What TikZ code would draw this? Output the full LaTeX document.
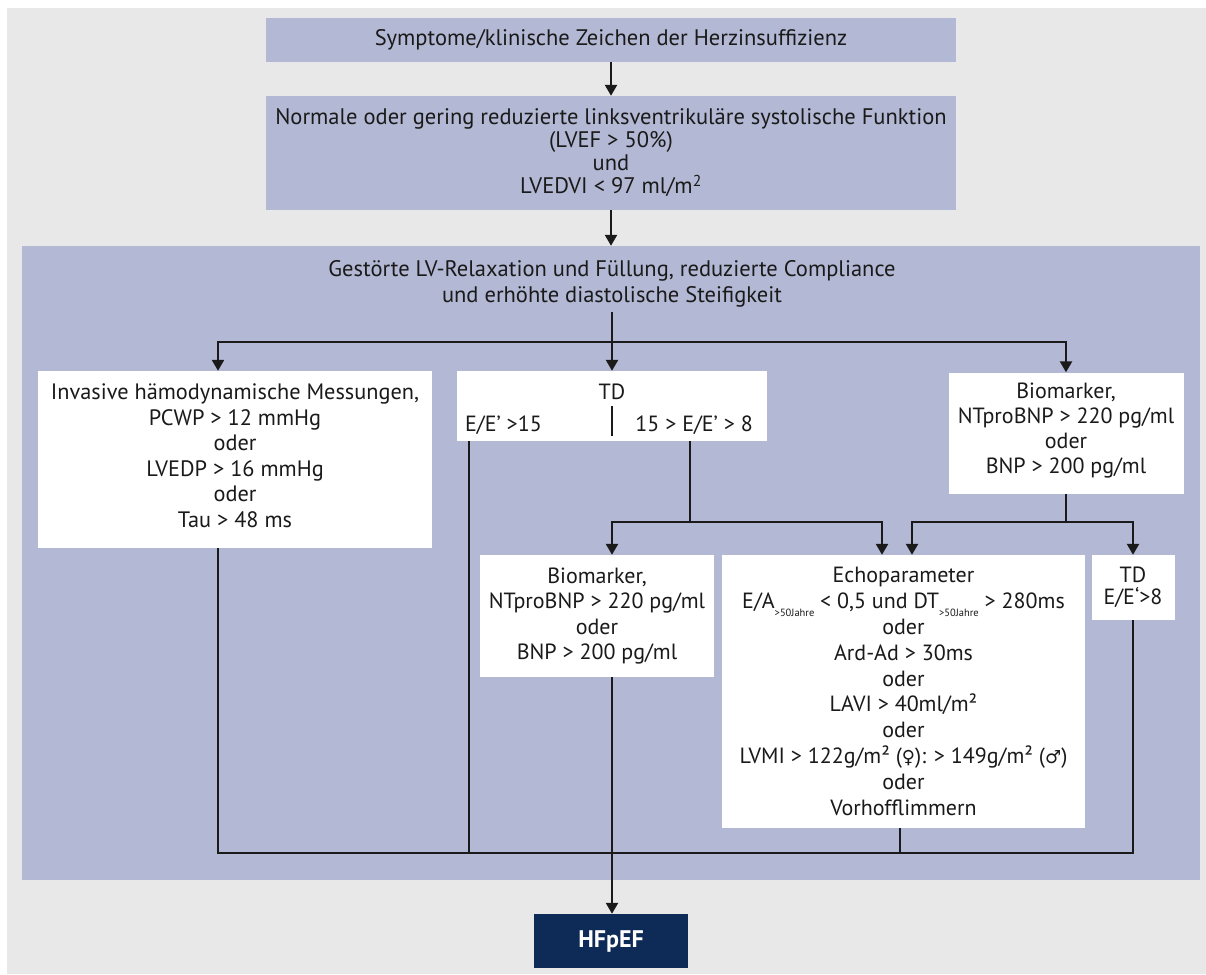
\documentclass[tikz,border=0pt]{standalone}
\usepackage{fontspec}
\setmainfont{PT Sans}
\newfontfamily\symfont{DejaVu Sans}
\usetikzlibrary{arrows.meta,calc}
\definecolor{bg}{HTML}{E8E8E8}
\definecolor{panel}{HTML}{B3B8D4}
\definecolor{navy}{HTML}{0E2A56}
\definecolor{ink}{HTML}{1A1A1A}
\newcommand{\jsub}{\raisebox{-0.7ex}{\fontsize{10.5}{10.5}\selectfont >50Jahre}}
\begin{document}
\begin{tikzpicture}[x=1pt,y=-1pt,
 box/.style={fill=white, inner sep=0pt, align=center, text=ink, font=\fontsize{22}{25.6}\selectfont},
 topbox/.style={fill=panel, inner sep=0pt, align=center, text=ink, font=\fontsize{22.5}{23}\selectfont},
 plain/.style={inner sep=0pt, align=center, text=ink, font=\fontsize{22}{25}\selectfont},
 conn/.style={line width=2.4pt, draw=ink},
 arr/.style={conn, -{Triangle[width=12pt,length=11pt]}},
]
\useasboundingbox (0,0) rectangle (1206,974);
\fill[white] (0,0) rectangle (1206,974);
\fill[bg] (7,8) rectangle (1206,974);
\node[fill=panel, inner sep=0pt, minimum width=1178pt, minimum height=634pt] (panel) at (611,563) {};

\node[topbox, minimum width=690pt, minimum height=44pt] (top1) at (611,40) {Symptome/klinische Zeichen der Herzinsuffizienz};
\node[topbox, minimum width=690pt, minimum height=114pt] (top2) at (611,153) {Normale oder gering reduzierte linksventrikuläre systolische Funktion\\(LVEF > 50\%)\\und\\LVEDVI < 97 ml/m\textsuperscript{2}};
\node[plain, font=\fontsize{22.5}{26}\selectfont] (ptitle) at (612,284) {Gestörte LV-Relaxation und Füllung, reduzierte Compliance\\und erhöhte diastolische Steifigkeit};

\node[box, minimum width=394pt, minimum height=177pt] (left) at (235,459.5) {};
\node[plain, font=\fontsize{22.3}{25.5}\selectfont] (leftt) at (235,455.5) {Invasive hämodynamische Messungen,\\PCWP > 12 mmHg\\oder\\LVEDP > 16 mmHg\\oder\\Tau > 48 ms};
\node[box, minimum width=310pt, minimum height=70pt] (td) at (612,406) {};
\node[plain] (tdt) at (612,392) {TD};
\node[plain, anchor=base west] (tdl) at (465,431) {E/E’ >15};
\node[plain, anchor=base east] (tdr) at (753,431) {15 > E/E’ > 8};
\draw[line width=1.5pt, draw=ink] (td.center) ++(0,0) -- ++(0,30);
\node[box, minimum width=235pt, minimum height=121pt] (rbio) at (1066,433) {};
\node[plain] (rbiot) at (1066,431) {Biomarker,\\NTproBNP > 220 pg/ml\\oder\\BNP > 200 pg/ml};
\node[box, minimum width=234pt, minimum height=122pt] (mbio) at (597,616) {Biomarker,\\NTproBNP > 220 pg/ml\\oder\\BNP > 200 pg/ml};
\node[box, minimum width=363pt, minimum height=273pt, font=\fontsize{22}{25.8}\selectfont] (echo) at (903.5,691.5) {Echoparameter\\E/A\jsub{} < 0,5 und DT\jsub{} > 280ms\\oder\\Ard-Ad > 30ms\\oder\\LAVI > 40ml/m²\\oder\\LVMI > 122g/m² ({\symfont\fontsize{18}{18}\selectfont ♀}): > 149g/m² ({\symfont\fontsize{18}{18}\selectfont ♂})\\oder\\Vorhofflimmern};
\node[box, minimum width=83pt, minimum height=65pt, font=\fontsize{22}{22}\selectfont] (tds) at (1133,587.5) {TD\\E/E‘>8};
\node[fill=navy, inner sep=0pt, minimum width=154pt, minimum height=54pt, text=white, font=\bfseries\fontsize{24}{24}\selectfont] (hf) at (611,941) {HFpEF};

% connectors
\draw[arr] (top1.south) -- (top1.south |- top2.north);
\draw[arr] (top2.south) -- (top2.south |- panel.north);
\coordinate (jt) at (612,312);
\coordinate (j) at (612,342);
\draw[conn] (jt) -- (j);
\draw[arr] (j) -| ([xshift=-17pt]left.north);
\draw[arr] (j) -- (td.north);
\draw[arr] (j) -| (rbio.north);
% TD right branch
\coordinate (tdrb) at (690,441);
\coordinate (tdj) at (690,522);
\draw[conn] (tdrb) -- (tdj);
\draw[arr] (tdj) -| (mbio.north -| j);
\draw[arr] (tdj) -| ([xshift=-21.5pt]echo.north);
% right biomarker branch
\coordinate (rj) at (1066,522);
\draw[conn] (rbio.south) -- (rj);
\draw[arr] (rj) -| ([xshift=8.5pt]echo.north);
\draw[arr] (rj) -| (tds.north);
% bottom bus
\coordinate (busL) at (218,853);
\coordinate (busR) at (1133,853);
\coordinate (tdlb) at (469,441);
\draw[conn] ([xshift=-17pt]left.south) -- (busL) -- (busR) -- (tds.south);
\draw[conn] (tdlb) -- (tdlb |- busL);
\draw[conn] ([xshift=-3.5pt]echo.south) -- ([xshift=-3.5pt]echo.south |- busL);
\draw[arr] (mbio.south -| j) -- (hf.north -| j);
\end{tikzpicture}
\end{document}
